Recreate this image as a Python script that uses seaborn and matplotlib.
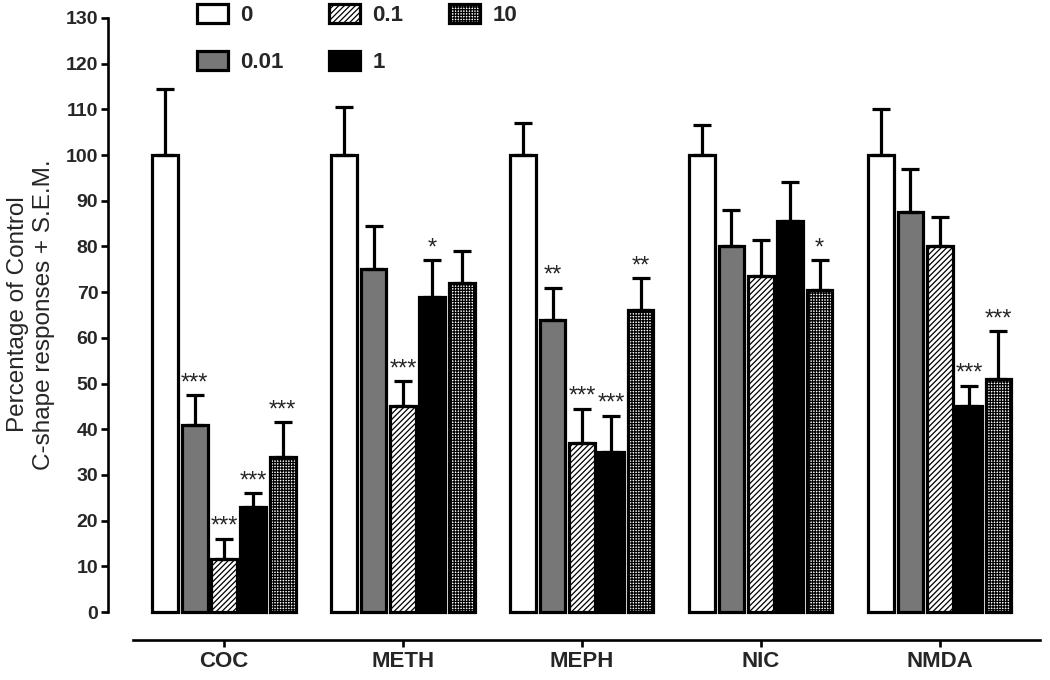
import seaborn as sns
import matplotlib.pyplot as plt
import pandas as pd

drugs = ["COC", "METH", "MEPH", "NIC", "NMDA"]
doses = ["0", "0.01", "0.1", "1", "10"]

# mean % of control per dose, one value per drug
mean_0 = [100, 100, 100, 100, 100]
mean_001 = [41, 75, 64, 80, 87.5]
mean_01 = [11.5, 45, 37, 73.5, 80]
mean_1 = [23, 69, 35, 85.5, 45]
mean_10 = [34, 72, 66, 70.5, 51]

# S.E.M.
sem_0 = [14.5, 10.5, 7, 6.5, 10]
sem_001 = [6.5, 9.5, 7, 8, 9.5]
sem_01 = [4.5, 5.5, 7.5, 8, 6.5]
sem_1 = [3, 8, 8, 8.5, 4.5]
sem_10 = [7.5, 7, 7, 6.5, 10.5]

# significance marks
stars_0 = ["", "", "", "", ""]
stars_001 = ["***", "", "**", "", ""]
stars_01 = ["***", "***", "***", "", ""]
stars_1 = ["***", "*", "***", "", "***"]
stars_10 = ["***", "", "**", "*", "***"]

means = [mean_0, mean_001, mean_01, mean_1, mean_10]
sems = [sem_0, sem_001, sem_01, sem_1, sem_10]
stars = [stars_0, stars_001, stars_01, stars_1, stars_10]

rows = []
for d, m in zip(doses, means):
    for drug, v in zip(drugs, m):
        rows.append({"drug": drug, "dose": d, "value": v})
df = pd.DataFrame(rows)

sns.set_style("ticks")
plt.rcParams["font.family"] = ["Liberation Sans", "DejaVu Sans"]
plt.rcParams["hatch.linewidth"] = 0.9

fig = plt.figure(figsize=(10.5, 6.8), dpi=100)
ax = fig.add_axes([108 / 1050, 1 - 615.7 / 680, (1040 - 108) / 1050, (615.7 - 13.4) / 680])

palette = {"0": "white", "0.01": "#777777", "0.1": "white", "1": "black", "10": "white"}
sns.barplot(data=df, x="drug", y="value", hue="dose", order=drugs, hue_order=doses,
            palette=palette, width=0.82, gap=0.12, edgecolor="black", linewidth=2.3,
            errorbar=None, legend=False, ax=ax)

bars = list(ax.containers)
hatches = [None, None, "//////", None, "++++++"]
for cont, h in zip(bars, hatches):
    for p in cont.patches:
        if h:
            p.set_hatch(h)
        p.set_zorder(2)

for cont, m, s, st in zip(bars, means, sems, stars):
    xs = [p.get_x() + p.get_width() / 2 for p in cont.patches]
    ax.errorbar(xs, m, yerr=[[0] * len(s), s], fmt="none", ecolor="black",
                elinewidth=2.3, capsize=6.5, capthick=2.3, zorder=3)
    for x, v, e, t in zip(xs, m, s, st):
        if t:
            ax.text(x, v + e + 0.2, t, ha="center", va="bottom", fontsize=17)

ax.set_xlim(-0.648, 4.56)
ax.set_ylim(-0.8, 131)
ax.set_yticks(range(0, 131, 10))
ax.spines["left"].set_bounds(0, 130)
ax.spines["bottom"].set_bounds(-0.51, 4.56)
ax.spines["bottom"].set_position(("outward", 17.5))
ax.spines["right"].set_visible(False)
ax.spines["top"].set_visible(False)
for sp in ["left", "bottom"]:
    ax.spines[sp].set_linewidth(1.9)
    ax.spines[sp].set_color("black")
ax.tick_params(axis="both", width=1.9, length=5, color="black")
for lbl in ax.get_yticklabels():
    lbl.set_fontweight("bold")
    lbl.set_fontsize(14)
for lbl in ax.get_xticklabels():
    lbl.set_fontweight("bold")
    lbl.set_fontsize(16)
ax.tick_params(axis="x", pad=3)
ax.tick_params(axis="y", pad=2)

ax.set_xlabel("")
ax.set_ylabel("Percentage of Control\nC-shape responses + S.E.M.", fontsize=17.5, labelpad=8)

handles = [c.patches[0] for c in bars]
ax.legend(handles, doses, ncol=3, frameon=False, loc="upper left",
          bbox_to_anchor=(197 / 1050, 1 - 4 / 680), bbox_transform=fig.transFigure,
          borderaxespad=0, borderpad=0,
          prop={"weight": "bold", "size": 16}, handlelength=1.4, handleheight=0.95,
          handletextpad=0.55, columnspacing=2.05, labelspacing=1.1)

plt.savefig("out.png", dpi=100)
